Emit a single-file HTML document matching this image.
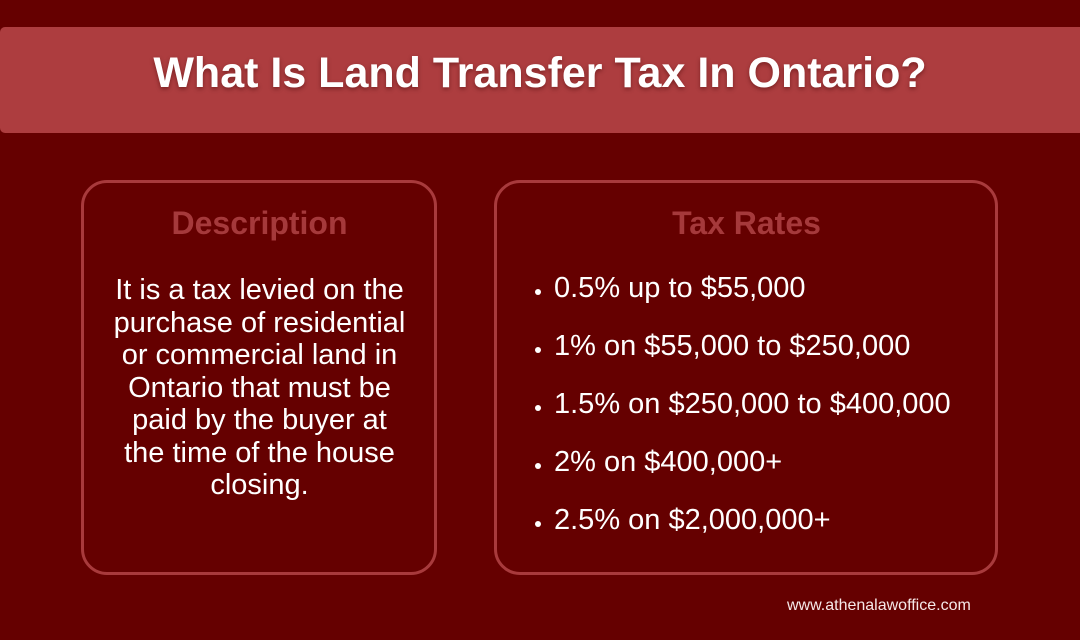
<!DOCTYPE html>
<html>
<head>
<meta charset="utf-8">
<style>
  html, body { margin:0; padding:0; }
  body {
    width:1080px; height:640px; overflow:hidden; position:relative;
    background:#650000;
    font-family:"Liberation Sans", Arial, sans-serif;
  }
  .banner {
    position:absolute; left:0; top:27px; width:1080px; height:106px;
    background:#ad3d3f; border-radius:5px 0 0 5px;
  }
  .title {
    position:absolute; left:0; top:52px; width:1080px; text-align:center;
    font-size:43px; line-height:43px; font-weight:bold; color:#ffffff;
    text-shadow:0 2px 4px rgba(60,0,0,0.45);
    white-space:nowrap;
  }
  .box {
    position:absolute; top:180px; height:389px;
    border:3px solid #a83a3c; border-radius:26px;
    box-sizing:border-box; height:395px;
  }
  .box1 { left:81px; width:356px; }
  .box2 { left:494px; width:504px; }
  .head {
    position:absolute; top:207px; text-align:center;
    font-size:32px; line-height:32px; font-weight:bold; color:#a5393b;
    white-space:nowrap;
  }
  .desc {
    position:absolute; left:82px; width:355px; top:274px; text-align:center;
    font-size:29px; line-height:32.5px; color:#ffffff;
  }
  .list {
    position:absolute; left:554px; top:259px;
    font-size:29px; line-height:58px; color:#ffffff; white-space:nowrap;
  }
  .list div { position:relative; }
  .list div::before {
    content:""; position:absolute; left:-19px; top:30px;
    width:6px; height:6px; border-radius:50%; background:#ffffff;
  }
  .web {
    position:absolute; left:787px; top:598px;
    font-size:16px; line-height:16px; color:#f6e8e8; white-space:nowrap;
  }
</style>
</head>
<body>
  <div class="banner"></div>
  <div class="title">What Is Land Transfer Tax In Ontario?</div>

  <div class="box box1"></div>
  <div class="box box2"></div>

  <div class="head" style="left:82px;width:355px;">Description</div>
  <div class="head" style="left:495px;width:503px;">Tax Rates</div>

  <div class="desc">It is a tax levied on the<br>purchase of residential<br>or commercial land in<br>Ontario that must be<br>paid by the buyer at<br>the time of the house<br>closing.</div>

  <div class="list">
    <div>0.5% up to $55,000</div>
    <div>1% on $55,000 to $250,000</div>
    <div>1.5% on $250,000 to $400,000</div>
    <div>2% on $400,000+</div>
    <div>2.5% on $2,000,000+</div>
  </div>

  <div class="web">www.athenalawoffice.com</div>
</body>
</html>
